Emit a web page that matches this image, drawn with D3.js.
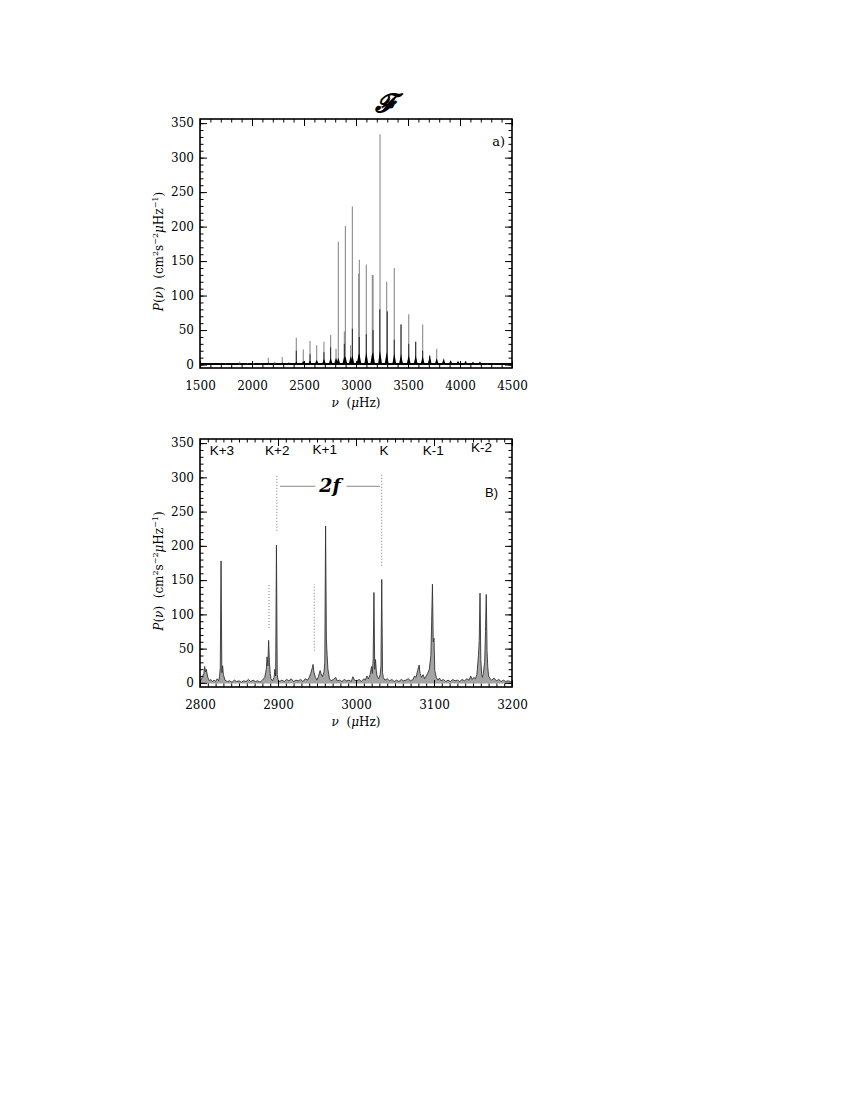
<!DOCTYPE html>
<html lang="en">
<head>
<meta charset="UTF-8">
<title>Power spectrum, F and 2f</title>
<style>
  body { margin: 0; background: #fff; }
  svg { display: block; }
  .tick text { font-family: "DejaVu Serif", serif; font-size: 12px; fill: #000; }
  .tick line { stroke: #000; stroke-width: 1; }
  .frame { fill: none; stroke: #000; stroke-width: 1.6; }
  .axis-title { font-family: "DejaVu Serif", serif; font-size: 12px; fill: #000; }
  .sans { font-family: "Liberation Sans", Arial, sans-serif; fill: #000; }
</style>
</head>
<body>
<div id="chart"></div>
<script src="https://d3js.org/d3.v7.min.js"></script>
<script>
// ---- panel a): full spectrum, one spike per mode ----
const topModeNu   = [1747, 1882, 1955, 2019, 2083, 2157, 2218, 2291, 2355, 2426, 2493, 2558, 2622, 2692, 2756, 2808, 2830, 2888, 2898, 2949, 2965, 3026, 3032, 3099, 3157, 3164, 3231, 3295, 3368, 3433, 3507, 3574, 3641, 3709, 3776, 3843, 3910, 3981, 4054, 4125, 4192, 4263, 4327, 4391, 4455];
const topModeP    = [1, 4.5, 1.5, 2, 1, 10, 4, 11, 3, 39, 22, 34, 28, 33, 43, 23, 178, 48, 201, 28, 229, 132, 152, 145, 130, 130, 334, 120, 140, 58, 73, 33, 58, 13, 23, 8.6, 6, 4.5, 5, 3.5, 4, 1.5, 1, 0.5, 0.5];
const topModeBase = [1, 2, 1, 1, 1, 3, 2, 3, 3, 4, 5, 6, 7, 8, 10, 10, 10, 12, 12, 12, 14, 16, 16, 18, 18, 18, 20, 18, 16, 15, 14, 13, 12, 12, 9, 8, 6, 5, 5, 4, 4, 2, 1, 1, 1];
// darker secondary spikes (blended companions)
const topDarkNu = [2426, 2558, 2692, 2756, 2888, 2965, 3032, 3099, 3164, 3229, 3301, 3368, 3433, 3507, 3574, 3641, 3709];
const topDarkP  = [20, 15, 18, 25, 30, 52, 40, 44, 50, 80, 77, 36, 58, 30, 33, 20, 13];

// ---- panel B): zoom 2800-3200 uHz ----
const botNu = [2800, 2802, 2805, 2806, 2807, 2808, 2810, 2812, 2814, 2816, 2818, 2820, 2822, 2824, 2825, 2826, 2827, 2828, 2829, 2830, 2832, 2835, 2838, 2841, 2844, 2847, 2850, 2853, 2856, 2859, 2862, 2865, 2868, 2871, 2874, 2877, 2880, 2883, 2885, 2886, 2887, 2888, 2889, 2890, 2891, 2893, 2895, 2896, 2897, 2898, 2899, 2900, 2902, 2905, 2908, 2911, 2914, 2917, 2920, 2923, 2926, 2929, 2932, 2935, 2938, 2940, 2942, 2944, 2945, 2946, 2948, 2950, 2952, 2954, 2955, 2957, 2959, 2960, 2961, 2962, 2963, 2964, 2966, 2968, 2971, 2974, 2976, 2979, 2982, 2985, 2988, 2991, 2994, 2996, 2998, 3001, 3004, 3007, 3010, 3012, 3014, 3016, 3018, 3020, 3021, 3022, 3023, 3024, 3025, 3026, 3027, 3029, 3031, 3032, 3033, 3034, 3035, 3037, 3040, 3043, 3046, 3049, 3052, 3055, 3058, 3061, 3064, 3067, 3070, 3073, 3075, 3077, 3079, 3081, 3082, 3084, 3086, 3088, 3090, 3092, 3094, 3096, 3097, 3098, 3099, 3100, 3101, 3103, 3105, 3107, 3109, 3112, 3115, 3118, 3121, 3124, 3127, 3130, 3133, 3136, 3139, 3142, 3145, 3147, 3149, 3151, 3153, 3155, 3157, 3158, 3159, 3160, 3161, 3162, 3163, 3165, 3166, 3167, 3168, 3169, 3170, 3172, 3174, 3177, 3180, 3183, 3186, 3189, 3192, 3195, 3198, 3200];
const botP  = [2, 6, 14, 24, 16, 20, 8, 3, 5, 2, 4, 2, 6, 3, 9, 22, 178, 15, 25, 12, 4, 2, 3, 1, 4, 2, 3, 1, 3, 2, 5, 2, 4, 2, 3, 1, 4, 8, 20, 38, 25, 62, 30, 14, 6, 3, 8, 20, 10, 201, 12, 5, 2, 4, 2, 5, 3, 6, 2, 4, 3, 5, 2, 6, 4, 8, 14, 22, 27, 16, 8, 4, 10, 18, 14, 9, 16, 30, 229, 64, 40, 20, 6, 3, 5, 8, 3, 4, 2, 5, 3, 4, 2, 9, 4, 3, 5, 2, 6, 4, 10, 6, 12, 24, 14, 35, 132, 20, 34, 18, 10, 6, 12, 25, 151, 15, 8, 4, 6, 3, 5, 2, 4, 2, 5, 3, 4, 6, 3, 5, 10, 8, 18, 26, 14, 8, 12, 6, 10, 14, 20, 40, 90, 144, 60, 65, 18, 8, 4, 7, 3, 5, 2, 4, 2, 5, 3, 4, 2, 5, 3, 6, 4, 10, 5, 8, 6, 12, 40, 62, 131, 34, 14, 8, 12, 30, 75, 129, 47, 22, 10, 6, 4, 7, 3, 5, 2, 4, 2, 3, 2, 3];

const kNames = ["K+3", "K+2", "K+1", "K", "K-1", "K-2"];
const kNu    = [2828, 2899, 2960, 3036, 3099, 3161];
const kP     = [332, 332, 334, 332, 332, 337];

// dotted guide lines (frequency, lower and upper power)
const guideNu = [2898.5, 3033, 2888.5, 2946.5];
const guideLo = [222, 171, 80, 47];
const guideHi = [302, 306, 144, 144];
const spanNu  = [2902.6, 3030.8];
const spanP   = 287;

const yTicks      = [0, 50, 100, 150, 200, 250, 300, 350];
const yMinor      = d3.range(0, 351, 10);
const topXTicks   = [1500, 2000, 2500, 3000, 3500, 4000, 4500];
const topXMinor   = d3.range(1500, 4501, 100);
const botXTicks   = [2800, 2900, 3000, 3100, 3200];
const botXMinor   = d3.range(2800, 3201, 10);

const width = 850, height = 1100;

const svg = d3.select('#chart').append('svg')
    .attr('width', width)
    .attr('height', height);

const xTop = d3.scaleLinear().domain([1500, 4500]).range([200, 512]);
const yTop = d3.scaleLinear().domain([-5, 356]).range([368, 119]);
const xBot = d3.scaleLinear().domain([2800, 3200]).range([200, 512]);
const yBot = d3.scaleLinear().domain([-6, 356]).range([687, 439]);

function drawAxes(x, y, xMajor, xMinor) {
    const [x0, x1] = x.range();
    const [y0, y1] = y.range();
    const g = svg.append('g');

    const add = (axis, tx, ty) => {
        const a = g.append('g').attr('transform', `translate(${tx},${ty})`).call(axis);
        a.select('.domain').remove();
        return a;
    };
    // major ticks (inward), labels on bottom and left only
    add(d3.axisBottom(x).tickValues(xMajor).tickSizeInner(-7).tickSizeOuter(0).tickPadding(13).tickFormat(d3.format('d')), 0, y0);
    add(d3.axisTop(x).tickValues(xMajor).tickSizeInner(-7).tickSizeOuter(0).tickFormat(''), 0, y1);
    add(d3.axisLeft(y).tickValues(yTicks).tickSizeInner(-7).tickSizeOuter(0).tickPadding(6).tickFormat(d3.format('d')), x0, 0);
    add(d3.axisRight(y).tickValues(yTicks).tickSizeInner(-7).tickSizeOuter(0).tickFormat(''), x1, 0);
    // minor ticks
    add(d3.axisBottom(x).tickValues(xMinor).tickSizeInner(-3.5).tickSizeOuter(0).tickFormat(''), 0, y0);
    add(d3.axisTop(x).tickValues(xMinor).tickSizeInner(-3.5).tickSizeOuter(0).tickFormat(''), 0, y1);
    add(d3.axisLeft(y).tickValues(yMinor).tickSizeInner(-3.5).tickSizeOuter(0).tickFormat(''), x0, 0);
    add(d3.axisRight(y).tickValues(yMinor).tickSizeInner(-3.5).tickSizeOuter(0).tickFormat(''), x1, 0);

    g.append('rect').attr('class', 'frame')
        .attr('x', x0).attr('y', y1)
        .attr('width', x1 - x0).attr('height', y0 - y1);

    // x title: nu (muHz)
    const xt = g.append('text').attr('class', 'axis-title')
        .attr('x', (x0 + x1) / 2).attr('y', y0 + 39)
        .attr('text-anchor', 'middle');
    xt.append('tspan').attr('font-style', 'italic').text('ν');
    xt.append('tspan').text('\u00a0\u00a0(');
    xt.append('tspan').attr('font-style', 'italic').text('μ');
    xt.append('tspan').text('Hz)');

    // y title: P(nu) (cm^2 s^-2 muHz^-1)
    const cy = (y0 + y1) / 2 + 8;
    const yt = g.append('text').attr('class', 'axis-title')
        .attr('transform', `translate(${x0 - 37},${cy}) rotate(-90)`)
        .attr('text-anchor', 'middle');
    yt.append('tspan').attr('font-style', 'italic').text('P');
    yt.append('tspan').text('(');
    yt.append('tspan').attr('font-style', 'italic').text('ν');
    yt.append('tspan').text(')\u00a0\u00a0(cm');
    yt.append('tspan').attr('dy', -5).attr('font-size', 8).text('2');
    yt.append('tspan').attr('dy', 5).text('s');
    yt.append('tspan').attr('dy', -5).attr('font-size', 8).text('−2');
    yt.append('tspan').attr('dy', 5).attr('font-style', 'italic').text('μ');
    yt.append('tspan').text('Hz');
    yt.append('tspan').attr('dy', -5).attr('font-size', 8).text('−1');
    yt.append('tspan').attr('dy', 5).text(')');
    return g;
}

// ---------------- panel a) ----------------
const topPanel = svg.append('g');
const modes = topModeNu.map((nu, i) => ({nu, p: topModeP[i], base: topModeBase[i]}));

// noise floor
topPanel.append('line')
    .attr('x1', xTop(1500)).attr('x2', xTop(4500))
    .attr('y1', yTop(0.8)).attr('y2', yTop(0.8))
    .attr('stroke', '#000').attr('stroke-width', 2.2);

topPanel.selectAll('.spike')
    .data(modes)
    .enter().append('line')
    .attr('class', 'spike')
    .attr('x1', d => xTop(d.nu)).attr('x2', d => xTop(d.nu))
    .attr('y1', yTop(0)).attr('y2', d => yTop(d.p))
    .attr('stroke', '#8a8a8a').attr('stroke-width', 1.1);

topPanel.selectAll('.dark')
    .data(topDarkNu.map((nu, i) => ({nu, p: topDarkP[i]})))
    .enter().append('line')
    .attr('class', 'dark')
    .attr('x1', d => xTop(d.nu)).attr('x2', d => xTop(d.nu))
    .attr('y1', yTop(0)).attr('y2', d => yTop(d.p))
    .attr('stroke', '#2a2a2a').attr('stroke-width', 1);

topPanel.selectAll('.base')
    .data(modes)
    .enter().append('path')
    .attr('class', 'base')
    .attr('d', d => `M${xTop(d.nu - 20)},${yTop(0)}L${xTop(d.nu)},${yTop(d.base)}L${xTop(d.nu + 20)},${yTop(0)}Z`)
    .attr('fill', '#000');

drawAxes(xTop, yTop, topXTicks, topXMinor);

svg.append('text')
    .attr('x', 505).attr('y', 146)
    .attr('text-anchor', 'end')
    .attr('font-family', '"DejaVu Serif", serif').attr('font-size', 13)
    .text('a)');

svg.append('text')
    .attr('x', 384).attr('y', 112)
    .attr('text-anchor', 'middle')
    .attr('font-family', '"DejaVu Serif", serif')
    .attr('font-size', 26).attr('font-weight', 'bold').attr('font-style', 'italic')
    .text('𝓕');

// ---------------- panel B) ----------------
const botPanel = svg.append('g');
const spec = botNu.map((nu, i) => ({nu, p: botP[i]}));

botPanel.append('path')
    .datum(spec)
    .attr('d', d3.area().x(d => xBot(d.nu)).y0(yBot(-1)).y1(d => yBot(d.p)))
    .attr('fill', '#a4a4a4');
botPanel.append('path')
    .datum(spec)
    .attr('d', d3.line().x(d => xBot(d.nu)).y(d => yBot(d.p)))
    .attr('fill', 'none').attr('stroke', '#333').attr('stroke-width', 0.9);

// guides
botPanel.selectAll('.guide')
    .data(guideNu.map((nu, i) => ({nu, lo: guideLo[i], hi: guideHi[i]})))
    .enter().append('line')
    .attr('class', 'guide')
    .attr('x1', d => xBot(d.nu)).attr('x2', d => xBot(d.nu))
    .attr('y1', d => yBot(d.lo)).attr('y2', d => yBot(d.hi))
    .attr('stroke', '#777').attr('stroke-width', 1)
    .attr('stroke-dasharray', '1,2');

botPanel.append('line')
    .attr('x1', xBot(spanNu[0])).attr('x2', xBot(spanNu[1]))
    .attr('y1', yBot(spanP)).attr('y2', yBot(spanP))
    .attr('stroke', '#888').attr('stroke-width', 1);

const twoF = botPanel.append('text')
    .attr('x', xBot((spanNu[0] + spanNu[1]) / 2)).attr('y', yBot(spanP) + 6)
    .attr('text-anchor', 'middle')
    .attr('font-family', '"DejaVu Serif", serif')
    .attr('font-size', 19).attr('font-weight', 'bold').attr('font-style', 'italic')
    .text('2f');
const bb = twoF.node().getBBox();
botPanel.insert('rect', 'text')
    .attr('x', bb.x - 3).attr('y', bb.y + 2)
    .attr('width', bb.width + 6).attr('height', bb.height - 2)
    .attr('fill', '#fff');

drawAxes(xBot, yBot, botXTicks, botXMinor);

botPanel.selectAll('.klab')
    .data(kNames.map((name, i) => ({name, nu: kNu[i], p: kP[i]})))
    .enter().append('text')
    .attr('class', 'klab sans')
    .attr('x', d => xBot(d.nu)).attr('y', d => yBot(d.p))
    .attr('text-anchor', 'middle')
    .attr('font-size', 13.5)
    .text(d => d.name);

svg.append('text')
    .attr('class', 'sans')
    .attr('x', 498).attr('y', 497)
    .attr('text-anchor', 'end')
    .attr('font-size', 13)
    .text('B)');
</script>
</body>
</html>
